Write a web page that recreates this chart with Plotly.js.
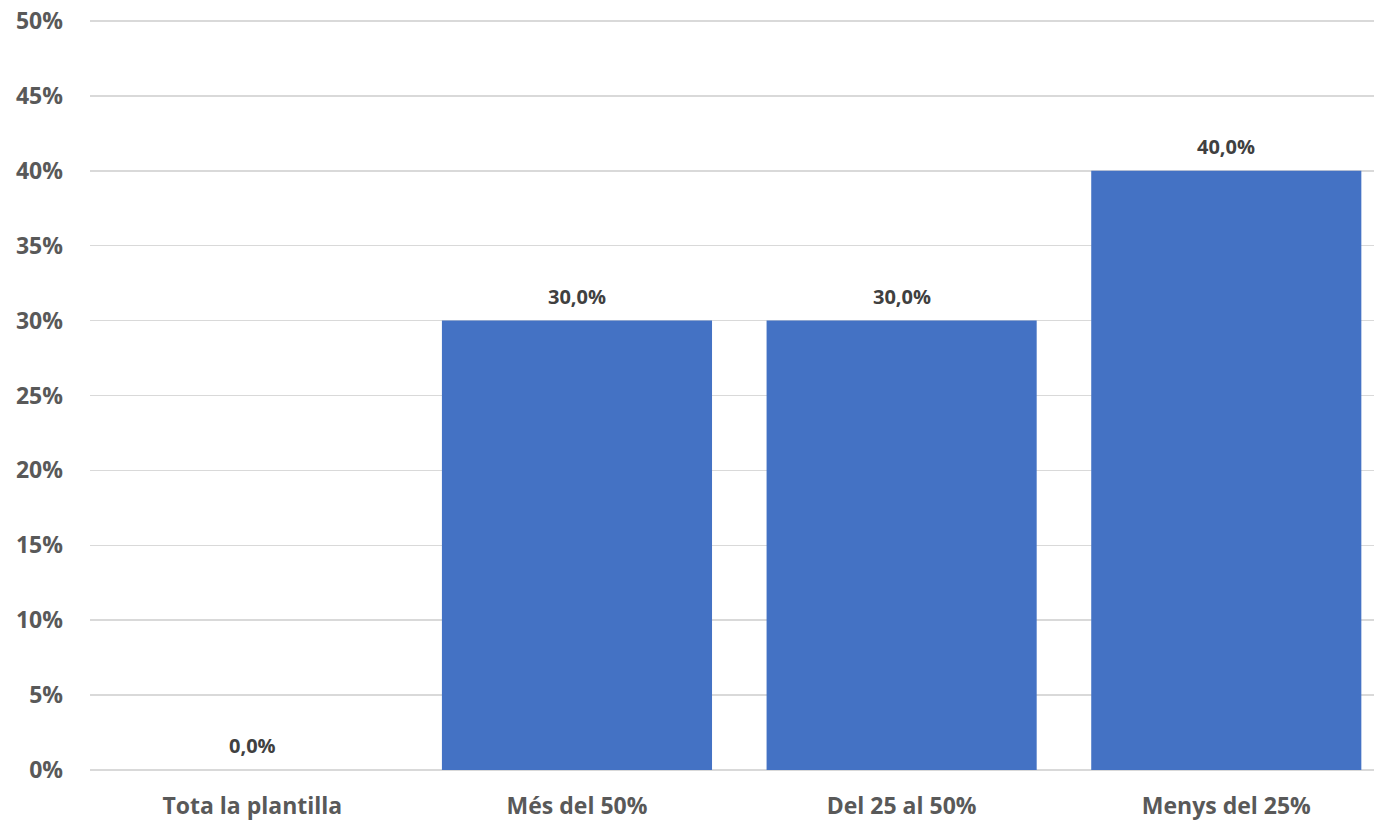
<!DOCTYPE html>
<html>
<head>
<meta charset="utf-8">
<script src="https://cdn.plot.ly/plotly-3.0.1.min.js"></script>
<style>html,body{margin:0;padding:0;background:#fff;}#chart{width:1374px;height:822px;}</style>
</head>
<body>
<div id="chart"></div>
<script>
const categories = ["Tota la plantilla", "Més del 50%", "Del 25 al 50%", "Menys del 25%"];
const values = [0.0, 30.0, 30.0, 40.0];
const labels = ["0,0%", "30,0%", "30,0%", "40,0%"];
const yTickVals = [0, 5, 10, 15, 20, 25, 30, 35, 40, 45, 50];
const yTickText = ["0%", "5%", "10%", "15%", "20%", "25%", "30%", "35%", "40%", "45%", "50%"];

const FONT = "'Open Sans', 'Noto Sans', sans-serif";

const trace = {
  type: 'bar',
  x: categories,
  y: values,
  marker: {color: '#4472C4'},
  hoverinfo: 'none'
};

const annotations = categories.map((c, i) => ({
  x: c, y: values[i], xref: 'x', yref: 'y',
  text: '<b>' + labels[i] + '</b>',
  showarrow: false, yanchor: 'bottom', yshift: 9,
  font: {family: FONT, size: 20, color: '#404040'}
}));

const layout = {
  width: 1374, height: 822,
  margin: {l: 90, r: 0, t: 19, b: 52, pad: 0},
  paper_bgcolor: '#ffffff', plot_bgcolor: '#ffffff',
  showlegend: false,
  bargap: 0.168,
  font: {family: FONT},
  xaxis: {
    type: 'category',
    range: [-0.5, 3.455],
    showgrid: false, zeroline: false, showline: false,
    ticks: '', ticklabelstandoff: 20,
    tickfont: {family: FONT, size: 23, color: '#595959', weight: 'bold'}
  },
  yaxis: {
    range: [0, 50.13],
    tickvals: yTickVals, ticktext: yTickText,
    showgrid: true, gridcolor: '#D9D9D9', gridwidth: 1.5,
    zeroline: true, zerolinecolor: '#D9D9D9', zerolinewidth: 1.5,
    showline: false, ticks: '', ticklabelstandoff: 26,
    tickfont: {family: FONT, size: 23, color: '#595959', weight: 'bold'}
  },
  annotations: annotations
};

Plotly.newPlot('chart', [trace], layout, {staticPlot: true, displayModeBar: false});
</script>
</body>
</html>
